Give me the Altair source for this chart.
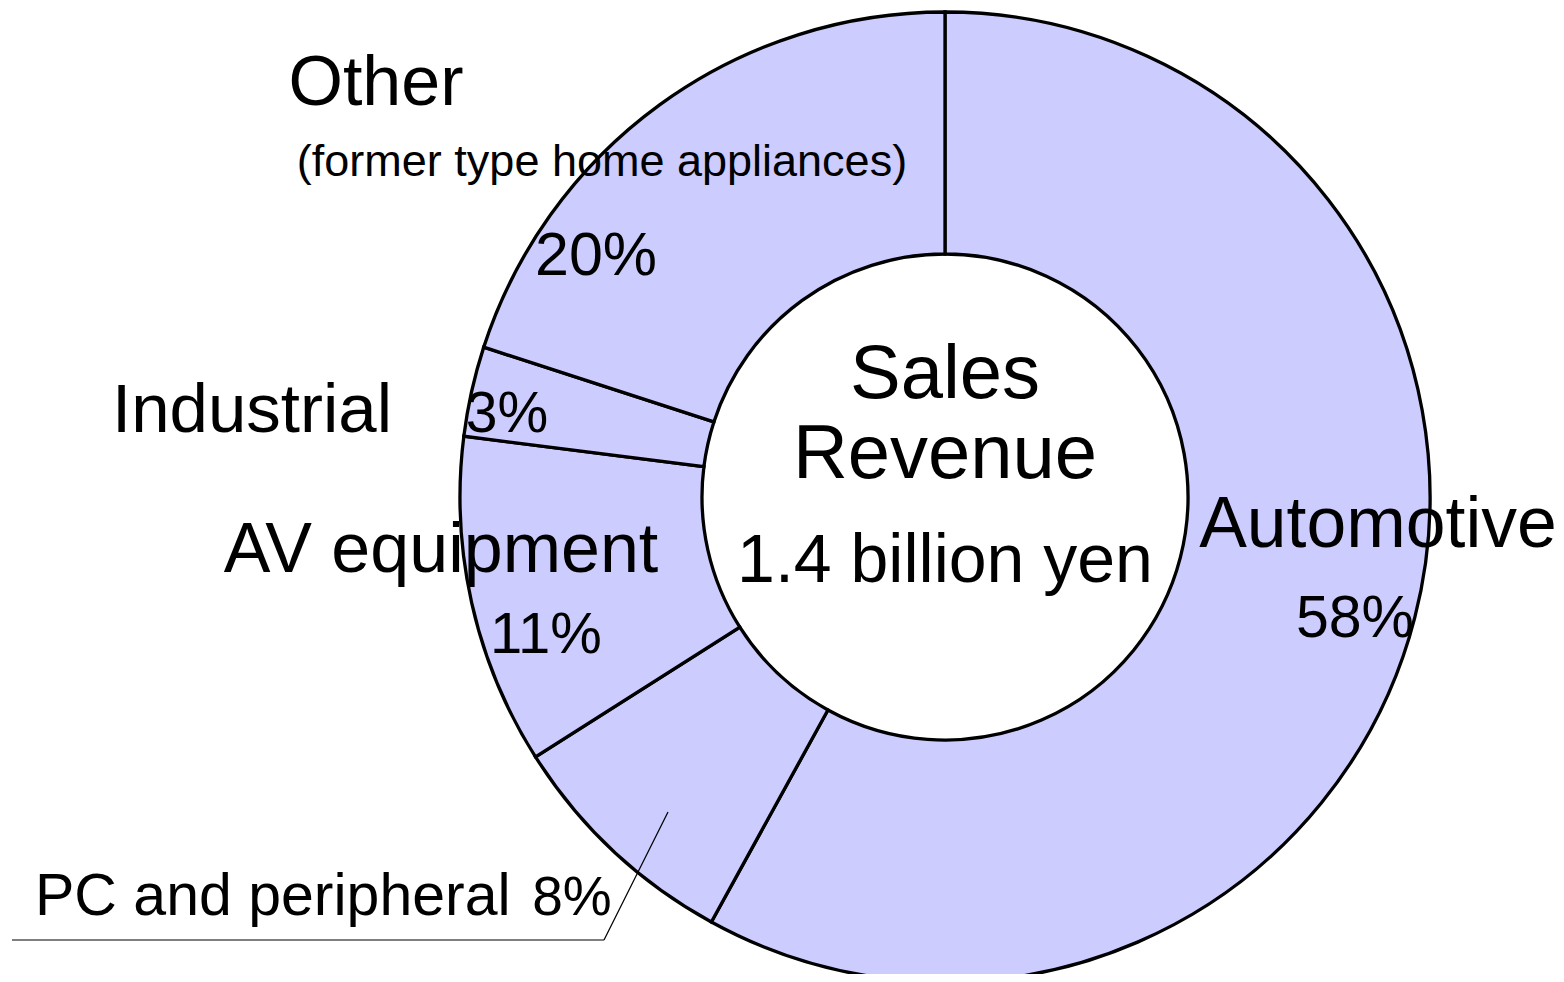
import altair as alt
import pandas as pd

# ---- data ----
categories = ["Automotive", "PC and peripheral", "AV equipment", "Industrial", "Other"]
shares = [58, 8, 11, 3, 20]
center_lines = ["Sales", "Revenue", "1.4 billion yen"]
other_note = "(former type home appliances)"

df = pd.DataFrame({"category": categories, "share": shares, "idx": list(range(len(categories)))})
pct = {c: f"{s}%" for c, s in zip(categories, shares)}

W, H = 1548, 966
CX, CY = 937, 489
FONT = "Liberation Sans"

ring = alt.Chart(df).mark_arc(
    outerRadius=485, innerRadius=243, stroke="black", strokeWidth=3.3, fill="#CCCCFF"
).encode(
    theta=alt.Theta("share:Q", stack=True),
    order=alt.Order("idx:Q"),
    x=alt.value(CX),
    y=alt.value(CY),
)


def label(text, x, y, size, align="center"):
    return alt.Chart(pd.DataFrame({"t": [text]})).mark_text(
        font=FONT, fontSize=size, align=align, baseline="alphabetic", color="black"
    ).encode(text="t:N", x=alt.value(x), y=alt.value(y))


layers = [ring]
# leader line for PC and peripheral
layers.append(alt.Chart(pd.DataFrame({"a": [0]})).mark_rule(color="black", strokeWidth=1.2).encode(
    x=alt.value(660), y=alt.value(804), x2=alt.value(596), y2=alt.value(932)))
layers.append(alt.Chart(pd.DataFrame({"a": [0]})).mark_rule(color="black", strokeWidth=1.2).encode(
    x=alt.value(4), y=alt.value(932), x2=alt.value(596), y2=alt.value(932)))

layers += [
    label(categories[4], 368, 97, 70),
    label(other_note, 594, 168, 45),
    label(pct["Other"], 588, 267, 61),
    label(categories[3], 244, 424, 69),
    label(pct["Industrial"], 499, 424, 57),
    label(categories[2], 433, 564, 70),
    label(pct["AV equipment"], 538, 645, 58),
    label(categories[1], 27, 907, 59, align="left"),
    label(pct["PC and peripheral"], 564, 907, 55),
    label(center_lines[0], 937, 390, 76),
    label(center_lines[1], 937, 470, 76),
    label(center_lines[2], 937, 574, 68),
    label(categories[0], 1370, 539, 71.5),
    label(pct["Automotive"], 1347, 629, 59),
]

chart = alt.layer(*layers).properties(
    width=W, height=H, padding=0, autosize="none", background="white"
).configure_view(stroke=None)

chart.save("out.html", embed_options={"renderer": "svg", "actions": False})
